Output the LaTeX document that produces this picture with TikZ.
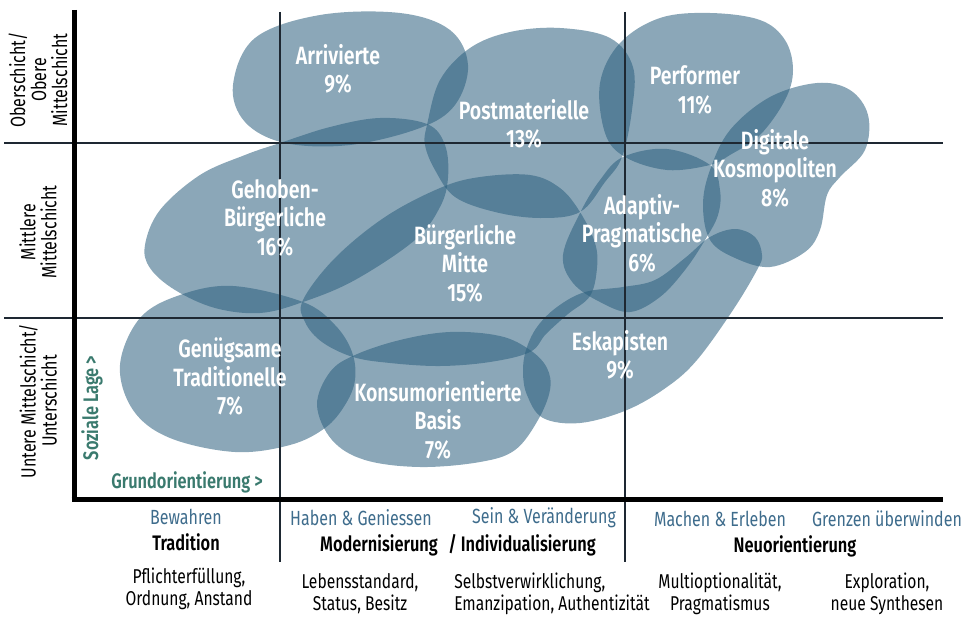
\documentclass[tikz,border=0pt]{standalone}
\usepackage{fontspec}
\setmainfont[FakeStretch=0.78, BoldFont={Fira Sans SemiBold}]{Fira Sans}
\definecolor{blobc}{RGB}{41,93,124}
\definecolor{bluetxt}{RGB}{62,108,140}
\definecolor{tealtxt}{RGB}{58,122,110}
\definecolor{gridc}{RGB}{30,40,50}
\begin{document}
\begin{tikzpicture}[x=1pt,y=-1pt,
  blob/.style={fill=blobc, fill opacity=0.54},
  lbl/.style={text=white, font=\fontsize{25}{28.5}\selectfont\bfseries, align=center, inner sep=0},
  axl/.style={font=\fontsize{20.5}{21}\selectfont, align=center, inner sep=0, rotate=90},
  valtxt/.style={text=bluetxt, font=\fontsize{20.5}{21}\selectfont, inner sep=0},
  dimtxt/.style={font=\fontsize{21}{21}\selectfont\bfseries, inner sep=0},
  desc/.style={font=\fontsize{20}{22}\selectfont, align=center, inner sep=0},
  dirtxt/.style={text=tealtxt, font=\fontsize{21}{20}\selectfont\bfseries, inner sep=0},
  thin/.style={line width=1.5pt, draw=gridc},
  thick/.style={line width=5pt, draw=black}]
\useasboundingbox (0,0) rectangle (966,618);

% blobs
\fill[blob] plot[smooth cycle, tension=0.6] coordinates {(233,85) (255,38) (320,15) (400,13) (450,30) (468,65) (455,105) (420,128) (350,145) (285,143) (245,122)};
\fill[blob] plot[smooth cycle, tension=0.6] coordinates {(145,245) (160,210) (200,175) (245,155) (280,143) (330,127) (380,118) (427,124) (445,145) (448,178) (440,207) (415,240) (355,280) (303,302) (260,313) (215,308) (175,290) (150,268)};
\fill[blob] plot[smooth cycle, tension=0.6] coordinates {(303,300) (335,258) (385,217) (440,188) (480,177) (530,175) (560,188) (580,212) (595,243) (597,268) (590,296) (568,314) (546,334) (530,352) (490,362) (440,366) (390,363) (353,357) (322,342) (305,322)};
\fill[blob] plot[smooth cycle, tension=0.6] coordinates {(427,125) (440,80) (470,48) (510,32) (560,28) (610,38) (633,67) (632,110) (622,157) (605,182) (580,212) (540,218) (495,212) (455,197) (435,170) (425,145)};
\fill[blob] plot[smooth cycle, tension=0.6] coordinates {(600,83) (620,43) (660,18) (710,13) (760,20) (785,40) (793,70) (785,100) (760,135) (730,155) (710,165) (667,170) (625,157) (605,133)};
\fill[blob] plot[smooth cycle, tension=0.6] coordinates {(710,170) (730,130) (770,97) (817,83) (850,90) (868,115) (865,150) (840,177) (827,195) (820,230) (805,252) (770,267) (735,258) (710,240) (703,205)};
\fill[blob] plot[smooth cycle, tension=0.6] coordinates {(580,213) (600,180) (623,157) (667,149) (710,165) (720,190) (718,215) (705,240) (685,270) (660,297) (630,312) (600,302) (573,283) (563,255)};
\fill[blob] plot[smooth cycle, tension=0.6] coordinates {(526,350) (537,327) (557,307) (585,292) (623,287) (655,280) (685,258) (710,237) (735,229) (755,237) (762,255) (757,270) (733,310) (697,360) (667,387) (627,410) (580,423) (543,418) (527,395) (523,372)};
\fill[blob] plot[smooth cycle, tension=0.6] coordinates {(317,405) (330,372) (355,355) (400,340) (450,332) (500,336) (530,350) (547,368) (550,390) (538,420) (515,450) (480,462) (420,467) (365,460) (332,440)};
\fill[blob] plot[smooth cycle, tension=0.6] coordinates {(120,365) (140,318) (180,295) (233,286) (303,302) (335,325) (352,352) (355,380) (345,405) (325,428) (290,445) (235,452) (170,438) (133,410)};

% grid
\draw[thin] (4,143) -- (943,143);
\draw[thin] (4,318) -- (943,318);
\draw[thin] (280,12) -- (280,562);
\draw[thin] (625,12) -- (625,562);
\draw[thick] (74,10) -- (74,501.5);
\draw[thick] (71.5,499) -- (943,499);

% blob labels
\node[lbl] (arr) at (338,69) {Arrivierte\\9\%};
\node[lbl] (pm) at (524,124) {Postmaterielle\\13\%};
\node[lbl] (perf) at (695,90) {Performer\\11\%};
\node[lbl] (dig) at (775,168) {Digitale\\Kosmopoliten\\8\%};
\node[lbl] (geh) at (275,218) {Gehoben-\\Bürgerliche\\16\%};
\node[lbl] (bm) at (465,263) {Bürgerliche\\Mitte\\15\%};
\node[lbl] (ap) at (642,233) {Adaptiv-\\Pragmatische\\6\%};
\node[lbl] (gt) at (230,377) {Genügsame\\Traditionelle\\7\%};
\node[lbl] (kb) at (438,420) {Konsumorientierte\\Basis\\7\%};
\node[lbl] (esk) at (620,355) {Eskapisten\\9\%};

% left axis labels
\node[axl] (ob) at (38,80) {Oberschicht/\\Obere\\Mittelschicht};
\node[axl] (mi) at (38,232) {Mittlere\\Mittelschicht};
\node[axl] (un) at (38,401) {Untere Mittelschicht/\\Unterschicht};
\node[dirtxt, rotate=90] (sl) at (92,408) {Soziale Lage >};
\node[dirtxt] (go) at (187,482) {Grundorientierung >};

% bottom labels
\node[valtxt] (v1) at (186,517) {Bewahren};
\node[valtxt] (v2) at (361,518) {Haben \& Geniessen};
\node[valtxt] (v3) at (544,518) {Sein \& Veränderung};
\node[valtxt] (v4) at (720,519) {Machen \& Erleben};
\node[valtxt] (v5) at (887,519) {Grenzen überwinden};
\node[dimtxt] (d1) at (186,542) {Tradition};
\node[dimtxt] (d2) at (458,545) {Modernisierung\enspace/ Individualisierung};
\node[dimtxt] (d3) at (795,546) {Neuorientierung};
\node[desc] (t1) at (189,589) {Pflichterfüllung,\\Ordnung, Anstand};
\node[desc] (t2) at (360,594) {Lebensstandard,\\Status, Besitz};
\node[desc, align=left] (t3) at (552,594) {Selbstverwirklichung,\\Emanzipation, Authentizität};
\node[desc] (t4) at (720,594) {Multioptionalität,\\Pragmatismus};
\node[desc] (t5) at (887,594) {Exploration,\\neue Synthesen};
\end{tikzpicture}
\end{document}
